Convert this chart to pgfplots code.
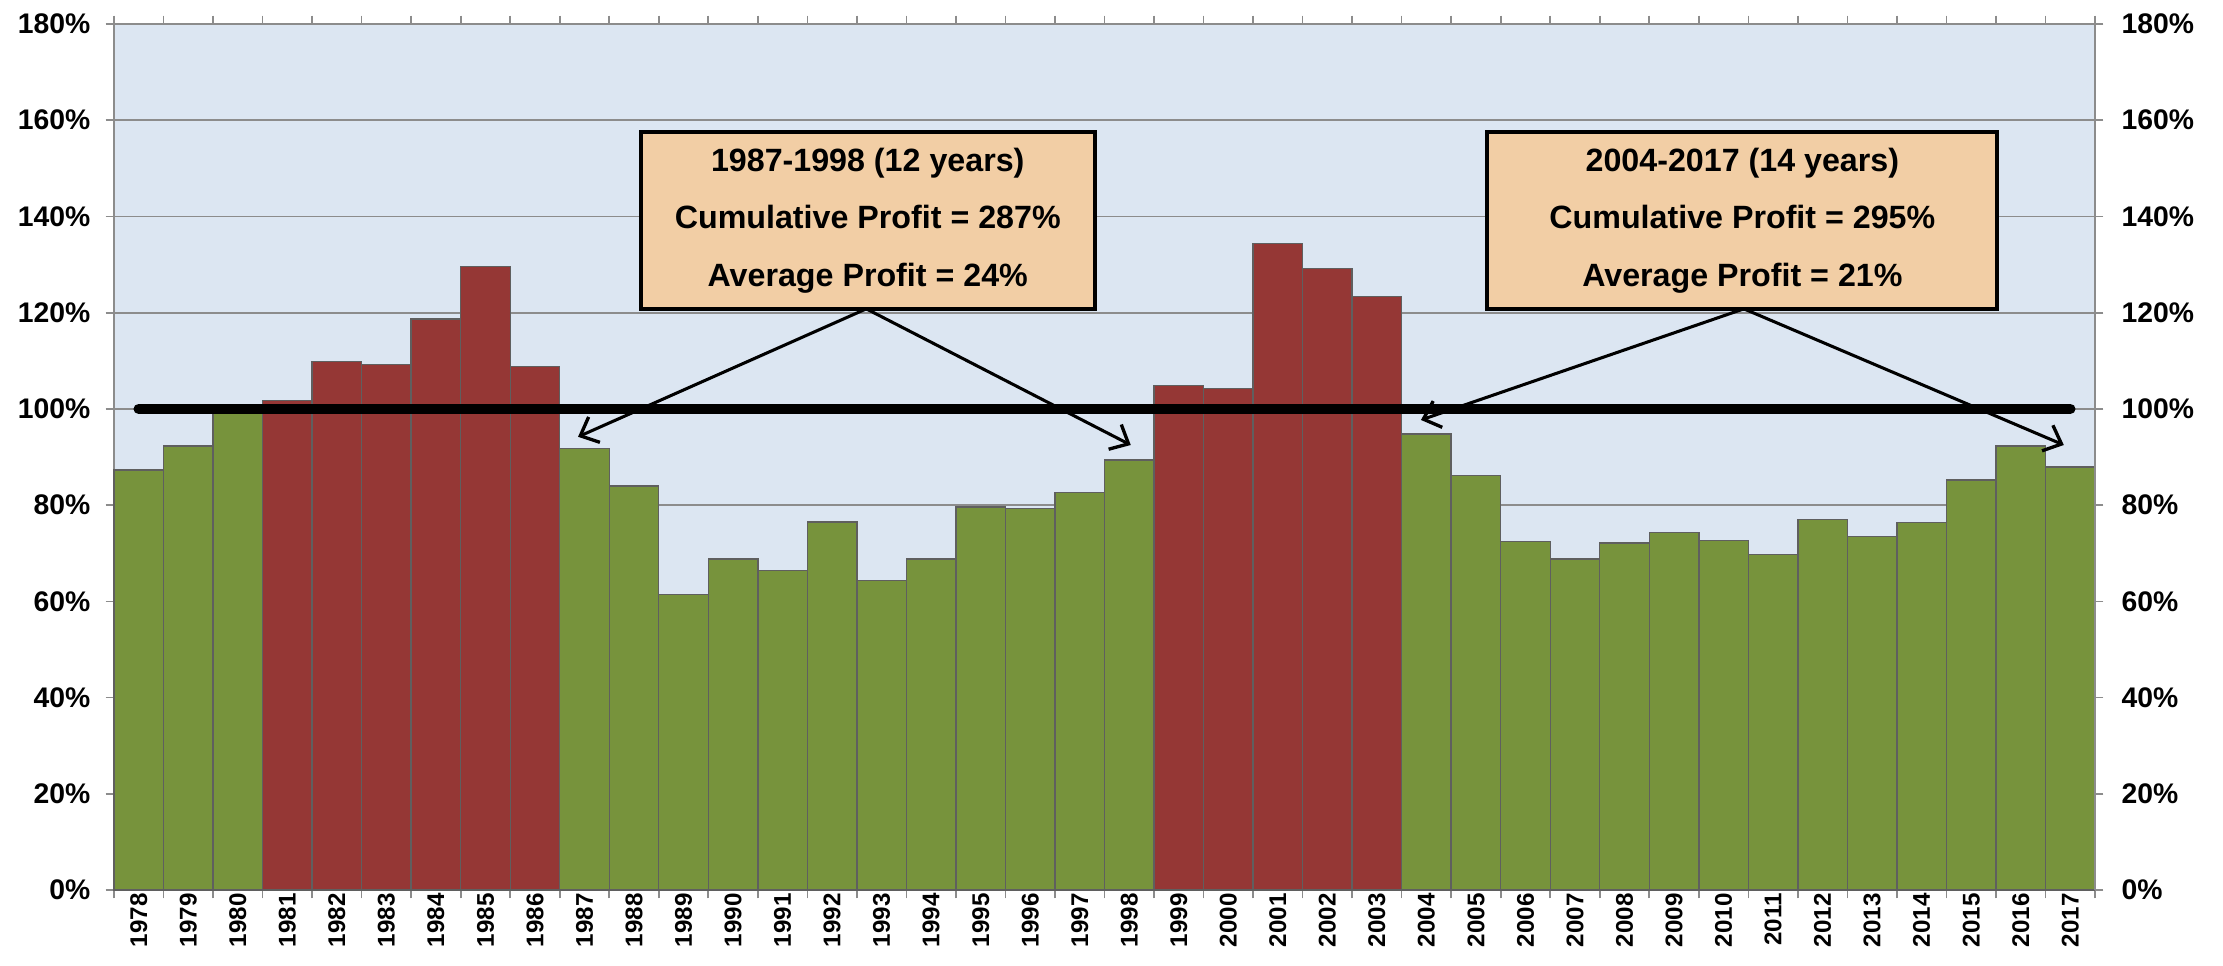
\documentclass[border=0pt]{standalone}
\usepackage{pgfplots}
\pgfplotsset{compat=1.18}
\usepackage{fontspec}
\setmainfont{Liberation Sans}
\usetikzlibrary{arrows.meta}
\definecolor{bgblue}{HTML}{DCE6F2}
\definecolor{bargreen}{HTML}{77933C}
\definecolor{barred}{HTML}{953735}
\definecolor{gridgray}{HTML}{8C8C8C}
\definecolor{edgegray}{HTML}{5F5F5F}
\definecolor{peach}{HTML}{F2CEA5}
\pgfplotstableread{
x y
0 87.3
1 92.3
2 99.0
9 91.8
10 84.0
11 61.4
12 68.8
13 66.4
14 76.5
15 64.3
16 68.8
17 79.6
18 79.3
19 82.6
20 89.4
26 94.8
27 86.2
28 72.5
29 68.8
30 72.1
31 74.3
32 72.7
33 69.8
34 77.0
35 73.5
36 76.4
37 85.2
38 92.3
39 87.9
}\greendata
\pgfplotstableread{
x y
3 101.7
4 109.9
5 109.2
6 118.7
7 129.6
8 108.8
21 104.9
22 104.3
23 134.4
24 129.2
25 123.3
}\reddata
\begin{document}
\begin{tikzpicture}
\pgfplotsset{
  common/.style={
    scale only axis, width=713.2pt, height=311.8pt,
    xmin=-0.5, xmax=39.5, ymin=0, ymax=180,
    ytick={0,20,...,180},
    yticklabels={0\%,20\%,40\%,60\%,80\%,100\%,120\%,140\%,160\%,180\%},
    yticklabel style={font=\fontsize{10.2}{12}\selectfont\bfseries},
    tick align=outside,
    major tick length=3pt,
    tick style={gridgray, line width=0.6pt},
    axis line style={gridgray, line width=0.7pt},
  }
}
\begin{axis}[common,
  axis background/.style={fill=bgblue},
  ymajorgrids, grid style={gridgray, line width=0.6pt},
  ytick pos=left,
  yticklabel style={xshift=-2pt},
  xtick={0,...,39},
  xticklabels={1978,1979,1980,1981,1982,1983,1984,1985,1986,1987,1988,1989,1990,1991,1992,1993,1994,1995,1996,1997,1998,1999,2000,2001,2002,2003,2004,2005,2006,2007,2008,2009,2010,2011,2012,2013,2014,2015,2016,2017},
  xtick style={draw=none},
  xticklabel style={yshift=2pt, rotate=90, anchor=east, inner sep=0pt, font=\fontsize{8.7}{10}\selectfont\bfseries},
  extra x ticks={-0.5,0.5,...,39.5},
  extra x tick labels={},
  extra x tick style={xtick style={draw=gridgray}, major tick length=3pt},
  ybar, bar width=1, bar shift=0pt,
  clip=false,
]
\addplot[ybar, fill=bargreen, draw=edgegray, line width=0.5pt] table[x=x,y=y]{\greendata};
\addplot[ybar, fill=barred, draw=edgegray, line width=0.5pt] table[x=x,y=y]{\reddata};
\addplot[sharp plot, black, line width=3.8pt, line cap=round] coordinates {(0,100) (39,100)};
\draw[black, line width=1.1pt, -{Straight Barb[length=5.5pt,width=10pt,line width=1.2pt]}] (axis cs:14.69,120.8) -- (axis cs:8.87,94.2);
\draw[black, line width=1.1pt, -{Straight Barb[length=5.5pt,width=10pt,line width=1.2pt]}] (axis cs:14.69,120.8) -- (axis cs:20.03,92.5);
\draw[black, line width=1.1pt, -{Straight Barb[length=5.5pt,width=10pt,line width=1.2pt]}] (axis cs:32.41,120.8) -- (axis cs:25.89,97.7);
\draw[black, line width=1.1pt, -{Straight Barb[length=5.5pt,width=10pt,line width=1.2pt]}] (axis cs:32.41,120.8) -- (axis cs:38.87,92.5);
\node[draw=black, line width=1.45pt, fill=peach, minimum width=163.4pt, minimum height=63.7pt, align=center, inner sep=0pt, font=\fontsize{11.6}{20.7}\selectfont\bfseries] at (axis cs:14.72,139.2) {1987-1998 (12 years)\\Cumulative Profit = 287\%\\Average Profit = 24\%};
\node[draw=black, line width=1.45pt, fill=peach, minimum width=183.6pt, minimum height=63.7pt, align=center, inner sep=0pt, font=\fontsize{11.6}{20.7}\selectfont\bfseries] at (axis cs:32.38,139.2) {2004-2017 (14 years)\\Cumulative Profit = 295\%\\Average Profit = 21\%};
\coordinate (SW) at (rel axis cs:0,0);
\coordinate (NE) at (rel axis cs:1,1);
\end{axis}
\begin{axis}[common,
  axis x line=none, axis y line*=right,
  ytick pos=right,
  yticklabel style={xshift=3pt},
]
\end{axis}
\pgfresetboundingbox
\path[use as bounding box] ([shift={(-41.04pt,-27pt)}]SW) rectangle ([shift={(46.08pt,8.64pt)}]NE);
\end{tikzpicture}
\end{document}
